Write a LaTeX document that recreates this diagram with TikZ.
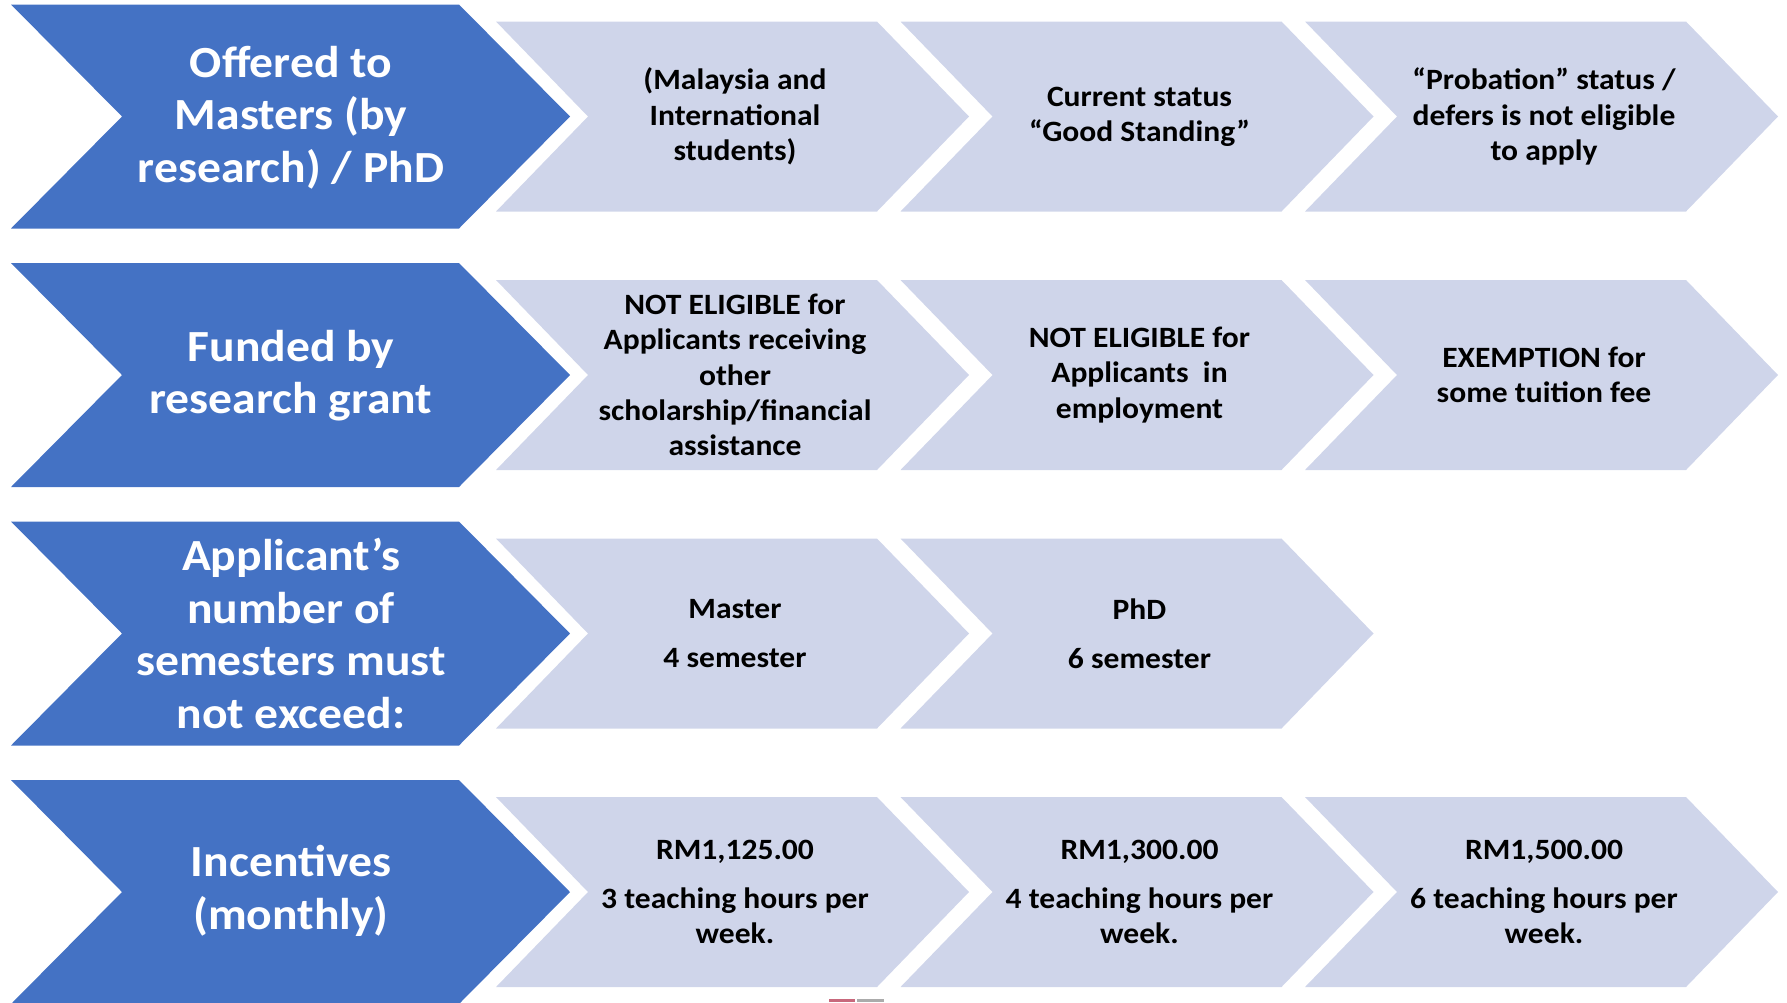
\documentclass[tikz,border=0pt]{standalone}
\usepackage{fontspec}
\setmainfont{Carlito}[FakeStretch=1.07]
\definecolor{chevblue}{HTML}{4472C4}
\definecolor{chevlight}{HTML}{CFD5EA}
\definecolor{markred}{HTML}{C8687C}
\definecolor{markgray}{HTML}{ABABAB}
\tikzset{
  headtext/.style={text=white, font=\fontsize{44.5}{52.4}\selectfont\bfseries, align=center, inner sep=0pt},
  celltext/.style={text=black, font=\fontsize{29.5}{35.3}\selectfont\bfseries, align=center, inner sep=0pt},
  headchev/.style={fill=chevblue},
  cellchev/.style={fill=chevlight}
}
\begin{document}
\begin{tikzpicture}[x=1pt,y=-1pt]
\useasboundingbox (0,0) rectangle (1787,1002);
\clip (0,0) rectangle (1787,1002);
% blue head chevrons
\foreach \yy in {116.5,375,633.5,892}{
  \path[headchev] (11,\yy-112) -- (459,\yy-112) -- (570,\yy) -- (459,\yy+112) -- (11,\yy+112) -- (122,\yy) -- cycle;
}
% light chevrons
\foreach \xx/\yy in {496/116.5, 900.5/116.5, 1305/116.5,
                     496/375, 900.5/375, 1305/375,
                     496/633.5, 900.5/633.5,
                     496/892, 900.5/892, 1305/892}{
  \path[cellchev] (\xx,\yy-95) -- (\xx+381,\yy-95) -- (\xx+473,\yy) -- (\xx+381,\yy+95) -- (\xx,\yy+95) -- (\xx+92,\yy) -- cycle;
}
% row 1
\node[headtext] (h1) at (291,117.5) {Offered to\\Masters (by\\research) / PhD};
\node[celltext] (c11) at (735,116.5) {(Malaysia and\\International\\students)};
\node[celltext] (c12) at (1139.5,116.5) {Current status\\“Good Standing”};
\node[celltext] (c13) at (1544,116.5) {“Probation” status /\\defers is not eligible\\to apply};
% row 2
\node[headtext] (h2) at (291,375.5) {Funded by\\research grant};
\node[celltext] (c21) at (735,375) {NOT ELIGIBLE for\\Applicants receiving\\other\\scholarship/financial\\assistance};
\node[celltext] (c22) at (1139.5,375) {NOT ELIGIBLE for\\Applicants\ \ in\\employment};
\node[celltext] (c23) at (1544,375) {EXEMPTION for\\some tuition fee};
% row 3
\node[headtext] (h3) at (291,633.5) {Applicant’s\\number of\\semesters must\\not exceed:};
\node[celltext] (c31) at (735,633.5) {Master\\[13.7pt]4 semester};
\node[celltext] (c32) at (1139.5,633.5) {PhD\\[13.7pt]6 semester};
% row 4
\node[headtext] (h4) at (291,891) {Incentives\\(monthly)};
\node[celltext] (c41) at (735,892) {RM1,125.00\\[13.7pt]3 teaching hours per\\week.};
\node[celltext] (c42) at (1139.5,892) {RM1,300.00\\[13.7pt]4 teaching hours per\\week.};
\node[celltext] (c43) at (1544,892) {RM1,500.00\\[13.7pt]6 teaching hours per\\week.};
% small marks at the bottom edge
\fill[markred] (829,999) rectangle (855,1002);
\fill[markgray] (857,999) rectangle (884,1002);
\end{tikzpicture}
\end{document}
